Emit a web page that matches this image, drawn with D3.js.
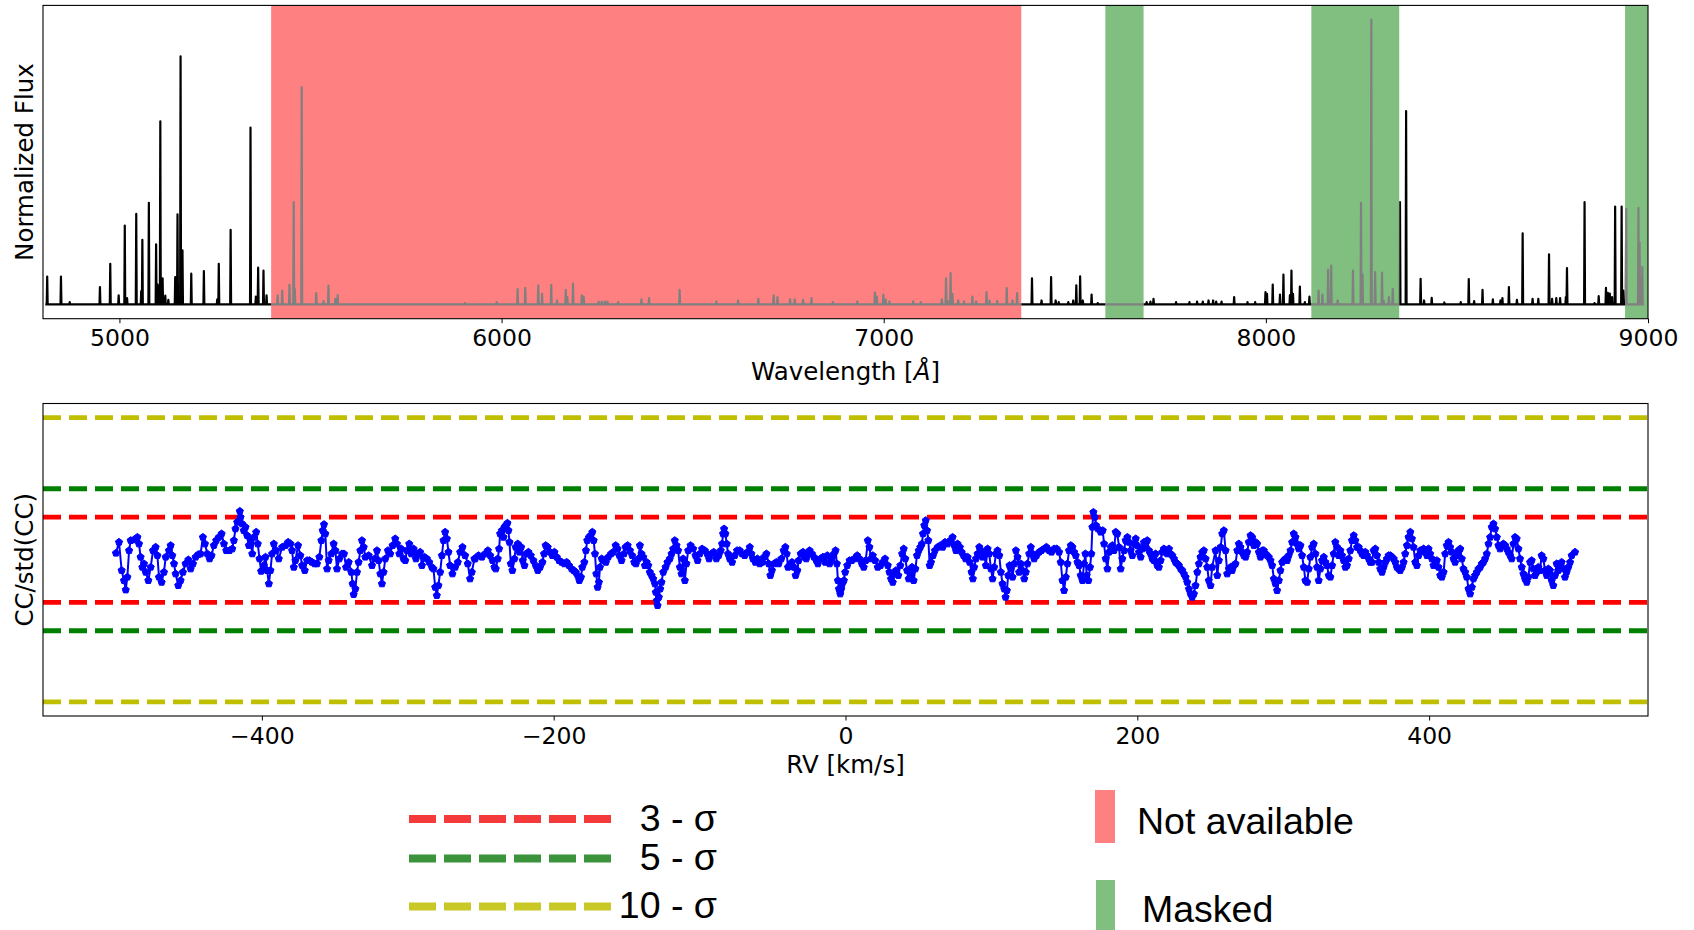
<!DOCTYPE html>
<html><head><meta charset="utf-8">
<script src="https://cdn.jsdelivr.net/npm/d3@7"></script>
<style>
body{margin:0;background:#fff}
svg{display:block}
</style>
</head><body>
<svg id="chart" width="1694" height="930"></svg>
<script>
// ---------------- DATA ----------------
const spectrumRange = [4806, 8990];
// emission lines: [wavelength (Å), normalized flux]
const emissionLines = [
 [4811,0.098],[4847,0.098],[4870,0.008],[4949,0.061],[4976,0.143],[4998,0.032],[5014,0.277],[5020,0.022],
 [5044,0.318],[5057,0.047],[5060,0.227],[5077,0.357],[5096,0.211],[5100,0.070],[5107,0.643],[5113,0.092],
 [5120,0.031],[5128,0.016],[5146,0.096],[5152,0.316],[5160,0.871],[5165,0.19],[5188,0.108],[5221,0.117],
 [5256,0.018],[5260,0.143],[5291,0.262],[5343,0.621],[5357,0.028],[5363,0.129],[5377,0.119],[5385,0.032],
 [5414,0.032],[5426,0.049],[5445,0.069],[5456,0.359],[5459,0.054],[5477,0.763],[5515,0.040],[5534,0.012],
 [5547,0.066],[5565,0.020],[5571,0.033],[5904,0.005],[5987,0.008],[6042,0.054],[6062,0.058],[6096,0.067],
 [6106,0.037],[6130,0.069],[6145,0.014],[6168,0.051],[6172,0.026],[6187,0.073],[6210,0.032],[6215,0.028],
 [6254,0.010],[6262,0.010],[6270,0.010],[6277,0.010],[6305,0.008],[6366,0.018],[6386,0.022],[6466,0.051],
 [6562,0.011],[6619,0.014],[6672,0.020],[6712,0.032],[6722,0.026],[6755,0.018],[6767,0.018],[6789,0.016],
 [6811,0.022],[6867,0.008],[6931,0.011],[6977,0.042],[6982,0.028],[6999,0.035],[7005,0.018],[7015,0.011],
 [7077,0.011],[7097,0.008],[7152,0.018],[7163,0.092],[7168,0.012],[7175,0.11],[7180,0.037],[7195,0.014],
 [7210,0.011],[7232,0.028],[7242,0.011],[7269,0.043],[7277,0.014],[7297,0.012],[7322,0.057],[7337,0.014],
 [7349,0.040],[7388,0.092],[7413,0.014],[7438,0.096],[7450,0.014],[7458,0.008],[7483,0.008],[7496,0.014],
 [7504,0.067],[7514,0.099],[7521,0.014],[7544,0.035],[7560,0.005],[7688,0.008],[7698,0.010],[7706,0.020],
 [7765,0.008],[7800,0.008],[7820,0.010],[7835,0.010],[7850,0.014],[7862,0.014],[7870,0.010],[7884,0.010],
 [7917,0.026],[7952,0.008],[7972,0.008],[7999,0.043],[8003,0.037],[8018,0.070],[8037,0.035],[8046,0.105],
 [8063,0.033],[8067,0.119],[8071,0.037],[8089,0.063],[8102,0.008],[8114,0.028],[8138,0.049],[8148,0.035],
 [8163,0.122],[8171,0.136],[8188,0.014],[8228,0.119],[8249,0.357],[8253,0.105],[8276,1.0],[8286,0.114],
 [8304,0.112],[8308,0.014],[8322,0.026],[8332,0.055],[8351,0.359],[8367,0.679],[8405,0.090],[8414,0.014],
 [8434,0.023],[8467,0.007],[8510,0.008],[8531,0.089],[8545,0.012],[8567,0.051],[8594,0.018],[8614,0.014],
 [8619,0.022],[8636,0.061],[8657,0.016],[8672,0.250],[8698,0.020],[8713,0.020],[8741,0.176],[8749,0.020],
 [8760,0.022],[8770,0.022],[8785,0.026],[8788,0.128],[8834,0.359],[8860,0.005],[8871,0.029],[8890,0.058],
 [8895,0.041],[8900,0.038],[8906,0.026],[8914,0.344],[8931,0.344],[8935,0.049],[8943,0.336],[8975,0.339],
 [8978,0.218],[8985,0.131]
];
const notAvailableRanges = [[5397, 7360]];
const maskedRanges = [[7580, 7680], [8119, 8349], [8940, 9000]];
const wavelengthTicks = [5000, 6000, 7000, 8000, 9000];

// cross-correlation: [RV (km/s), CC/std(CC)]
const ccSeries = [
 [-500,0.47],[-497.9,1.24],[-496.1,-0.75],[-494.5,-1.46],[-493.3,-2.12],[-492.2,-1.22],[-491.0,0.65],[-489.9,1.36],[-487.6,1.41],[-485.3,1.59],
 [-484.2,1.12],[-483.1,0.19],[-481.9,-0.52],[-480.8,-0.28],[-479.6,-0.87],[-477.8,-1.46],[-476.2,-0.52],[-474.6,0.65],[-472.8,0.89],[-471.6,0.30],
 [-470.5,-1.22],[-468.7,-1.58],[-467.1,-0.87],[-465.9,0.19],[-463.7,0.65],[-462.5,1.01],[-461.4,0.30],[-460.2,-0.28],[-459.1,-0.99],[-457.3,-1.81],
 [-455.7,-1.46],[-454.1,-0.87],[-452.3,-0.28],[-450.4,0.00],[-448.8,-0.64],[-447.2,-0.28],[-445.4,0.19],[-443.6,0.37],[-442.0,0.42],[-440.4,1.59],
 [-439.0,1.12],[-437.4,0.42],[-435.8,0.07],[-434.5,0.30],[-432.9,1.01],[-431.3,1.36],[-429.5,1.59],[-427.6,1.83],[-426.0,1.12],[-424.4,0.65],
 [-422.2,0.65],[-420.3,0.77],[-419.2,1.36],[-418.1,2.18],[-416.9,2.65],[-415.1,3.42],[-414.6,3.00],[-413.5,2.53],[-412.4,2.06],[-411.2,2.30],
 [-410.1,1.71],[-408.9,1.01],[-407.8,1.36],[-406.6,0.42],[-405.5,1.59],[-403.9,1.95],[-402.8,1.12],[-401.6,0.07],[-400.5,-0.80],[-398.7,-0.40],
 [-397.5,0.19],[-396.4,-0.75],[-395.2,-1.69],[-394.1,-0.75],[-393.0,0.42],[-391.8,1.12],[-390.2,0.65],[-388.4,0.07],[-386.1,0.89],[-383.8,1.01],
 [-382.0,1.24],[-380.4,1.12],[-379.3,0.65],[-378.1,-0.52],[-377.0,-0.05],[-375.2,1.01],[-373.6,0.30],[-372.4,-0.40],[-370.6,-0.75],[-369.0,-0.05],
 [-367.4,-0.05],[-365.6,-0.17],[-363.8,-0.28],[-362.2,-0.28],[-360.6,0.19],[-359.2,1.36],[-358.3,2.06],[-357.4,2.49],[-356.5,1.83],[-355.3,-0.64],
 [-354.2,-0.05],[-352.4,0.42],[-350.8,1.12],[-349.6,0.65],[-348.5,-0.64],[-346.9,0.07],[-345.1,0.42],[-343.7,0.42],[-342.3,-0.52],[-340.5,-0.17],
 [-338.7,-0.87],[-337.8,-1.69],[-337.1,-2.44],[-335.9,-2.05],[-334.8,-0.87],[-333.7,-0.17],[-332.5,0.65],[-331.4,1.36],[-330.2,0.89],[-329.1,0.19],
 [-326.8,0.30],[-324.5,-0.40],[-322.7,0.07],[-321.1,0.65],[-320.0,-0.05],[-318.8,-0.99],[-317.7,-1.69],[-316.6,-0.87],[-315.4,0.07],[-313.6,0.65],
 [-312.0,0.42],[-310.4,1.01],[-308.6,1.48],[-307.4,1.12],[-305.8,0.42],[-304.5,0.77],[-302.9,0.07],[-301.7,-0.05],[-300.6,0.65],[-299.0,1.12],
 [-297.6,0.42],[-296.0,0.77],[-294.4,0.07],[-293.1,0.42],[-291.5,0.54],[-290.3,-0.40],[-288.5,0.19],[-286.9,0.07],[-285.3,-0.17],[-283.5,-0.52],
 [-282.4,-0.64],[-281.2,-1.93],[-280.1,-2.51],[-279.0,-1.81],[-277.8,-0.87],[-276.6,0.30],[-275.5,1.36],[-274.4,1.95],[-273.2,1.48],[-272.1,0.54],
 [-271.0,-0.40],[-269.4,-0.99],[-267.5,-0.52],[-265.7,-0.17],[-264.1,0.54],[-262.5,0.89],[-260.7,0.30],[-258.9,-0.28],[-257.3,-1.34],[-256.1,-0.87],
 [-254.3,0.07],
 [-253.8,0.07],[-251.5,0.30],[-249.2,0.19],[-247.0,0.42],[-245.1,0.65],[-243.5,0.30],[-241.9,-0.05],[-240.6,-0.52],[-239.7,-0.64],[-238.3,0.07],
 [-237.4,0.77],[-236.7,1.83],[-235.5,2.06],[-234.4,1.59],[-233.7,2.30],[-232.8,2.42],[-231.7,2.58],[-231.0,2.06],[-230.3,1.24],[-229.4,-0.28],
 [-228.3,-0.75],[-226.9,0.07],[-226.0,0.89],[-224.6,1.12],[-223.5,0.54],[-222.3,0.89],[-221.2,-0.05],[-220.0,-0.40],[-218.9,0.42],[-217.3,0.54],
 [-215.7,0.30],[-213.9,-0.05],[-212.3,-0.40],[-210.9,-0.75],[-209.3,-0.52],[-207.7,-0.17],[-206.6,0.42],[-205.5,1.01],[-204.1,0.89],[-202.5,0.54],
 [-200.9,0.30],[-199.5,0.54],[-197.9,0.19],[-196.3,-0.05],[-194.5,-0.17],[-192.7,-0.28],[-191.1,-0.17],[-189.5,-0.40],[-187.7,-0.64],[-186.3,-0.75],
 [-184.9,-0.87],[-183.6,-1.10],[-182.4,-1.46],[-181.3,-1.22],[-180.4,-0.52],[-179.0,-0.17],[-177.9,0.65],[-177.0,1.36],[-175.8,1.59],[-174.7,1.71],
 [-173.5,1.95],[-172.6,1.36],[-171.7,0.42],[-170.8,-0.99],[-169.9,-1.93],[-169.0,-1.58],[-168.3,-0.52],[-167.1,0.07],[-165.5,-0.05],[-164.2,-0.17],
 [-162.6,0.19],[-160.7,0.42],[-159.2,0.54],[-157.5,1.01],[-156.2,0.77],[-155.0,0.30],[-153.5,-0.05],[-151.8,0.42],[-150.7,0.89],[-149.3,1.01],
 [-147.7,0.65],[-146.2,0.30],[-144.8,-0.17],[-143.6,-0.28],[-142.0,0.07],[-140.9,1.01],[-139.8,0.42],[-138.6,0.19],[-137.5,-0.40],[-136.3,-0.17],
 [-135.2,-0.40],[-134.1,-0.87],[-132.9,-1.10],[-131.8,-1.34],[-130.6,-1.69],[-130.0,-2.28],[-129.3,-2.87],[-128.8,-3.22],[-127.9,-2.63],[-127.0,-2.05],
 [-126.1,-1.58],[-124.9,-0.87],[-123.3,-0.52],[-122.0,-0.17],[-120.4,0.07],[-119.2,0.42],[-118.1,0.77],[-117.0,1.36],[-115.8,1.01],[-114.7,0.65],
 [-113.5,-0.52],[-112.4,-0.99],[-111.3,0.07],[-110.1,-1.46],[-109.0,-0.28],[-107.8,0.65],[-106.2,1.01],[-104.4,0.77],[-102.8,0.30],[-101.4,-0.05],
 [-99.9,0.42],[-98.3,0.77],[-96.4,0.65],[-94.8,0.42],[-93.5,0.07],[-91.9,0.42],[-90.3,0.54],[-88.5,0.07],[-86.9,0.30],[-85.5,0.65],
 [-84.6,1.12],[-83.9,1.83],[-83.2,2.18],[-82.3,1.83],[-81.4,1.12],[-80.5,0.42],[-79.3,0.07],[-77.7,-0.17],[-75.9,0.30],[-74.3,0.65],
 [-72.5,0.65],[-70.9,0.42],[-69.1,0.30],[-67.2,0.54],[-65.6,0.89],[-64.5,0.42],[-63.4,0.07],[-61.8,-0.17],[-60.4,0.07],[-58.8,-0.28],
 [-57.2,-0.17],[-55.8,0.19],[-54.2,0.42],[-52.6,-0.28],[-51.5,-1.10],[-50.4,-0.75],[-49.0,-0.28],[-47.4,-0.17],[-45.8,-0.28],[-44.0,0.07],
 [-42.4,0.65],[-41.2,0.89],[-40.3,0.42],[-39.4,-0.52],[-38.3,-0.40],[-36.7,-0.17],[-35.3,-0.52],[-34.2,-1.10],[-33.0,-0.75],[-32.1,-0.05],
 [-30.7,0.42],[-29.1,0.54],[-28.0,0.19],[-26.9,0.07],[-25.7,0.42],[-24.6,0.65],[-23.0,0.42],[-21.6,0.19],[-20.0,-0.05],[-18.9,-0.28],
 [-17.1,0.07],[-15.5,0.19],[-13.9,-0.17],[-12.5,0.30],[-10.9,-0.28],[-9.3,0.07],[-7.9,0.42],[-6.8,0.65],[-5.9,-0.28],[-5.2,-1.46],
 [-4.5,-2.05],[-3.6,-2.40],[-2.9,-2.05],[-2.2,-1.69],[-1.1,-1.46],[-0.2,-0.87],[1.2,-0.40],[2.8,-0.05],
 [4.3,-0.05],[6.1,0.07],[8.0,0.30],[9.6,0.07],[11.2,-0.28],[12.5,-0.52],[13.9,-0.05],[15.3,1.36],[16.4,0.89],[17.5,0.07],
 [18.7,0.30],[20.3,-0.05],[22.1,-0.52],[24.0,-0.40],[25.5,-0.17],[27.1,0.07],[29.0,-0.40],[30.1,-0.87],[31.2,-1.34],[32.4,-1.58],
 [33.5,-0.99],[34.6,-0.75],[36.2,-1.10],[37.6,-0.40],[38.8,0.42],[39.9,0.77],[41.0,0.07],[42.2,-0.75],[43.3,-1.34],[44.5,-1.10],
 [45.6,-0.52],[46.7,-1.46],[47.9,-0.64],[49.0,0.30],[50.2,0.65],[51.3,0.89],[52.4,1.12],[53.1,1.83],[54.0,2.42],[55.0,2.77],
 [55.9,2.06],[56.8,1.36],[57.7,-0.40],[58.6,-0.17],[60.0,0.30],[61.3,0.65],[63.2,0.89],[65.0,1.01],[66.6,0.89],[68.2,1.24],
 [70.0,1.12],[71.8,1.36],[73.4,1.59],[74.6,1.01],[75.7,0.65],[76.8,1.12],[78.4,0.89],[79.6,0.54],[80.9,0.30],[82.3,0.07],
 [83.7,0.19],[85.1,-0.17],[86.4,-0.87],[87.3,-1.34],[88.2,-0.52],[89.4,0.07],[90.5,0.42],[91.7,0.89],[92.8,0.65],[93.9,0.19],
 [95.1,0.42],[96.2,-0.40],[97.4,0.77],[98.5,0.42],[99.7,-0.64],[100.8,-1.34],[101.9,-0.52],[103.1,0.42],[104.2,0.65],[105.4,0.30],
 [106.5,-0.87],[107.6,-1.69],[108.8,-2.05],[109.7,-2.63],[110.6,-2.16],[111.5,-1.10],[112.4,-0.40],[113.3,-0.64],[114.5,-1.22],[115.6,-0.28],
 [116.8,0.65],[117.9,0.19],[119.0,-0.87],[120.2,-0.28],[121.3,-0.75],[122.5,-1.34],[123.6,-0.87],[124.7,-0.28],[125.9,0.42],[127.0,0.89],
 [128.2,0.42],[129.3,0.07],[130.9,0.30],[132.7,0.54],[134.3,0.65],[136.1,0.77],[137.7,0.89],[139.6,0.65],[141.2,0.54],[143.0,0.77],
 [144.8,0.77],[146.4,0.54],[147.5,-0.17],[148.7,-1.46],[149.8,-2.16],[151.0,-1.22],[152.1,-0.28],[153.2,0.65],[154.4,1.01],[155.5,0.89],
 [156.7,0.54],[157.8,0.30],[159.0,-0.17],[160.1,-0.40],[161.2,-1.10],[162.4,-1.46],[163.5,-0.28],[164.4,0.42],[165.3,-1.10],[166.5,-1.46],
 [167.6,-0.52],[168.5,0.42],[169.2,2.30],[169.9,3.35],[170.8,3.00],[171.7,2.42],[173.1,2.18],[174.9,1.95],[176.3,2.06],[177.2,1.12],
 [178.3,0.07],[179.5,-0.64],[180.6,0.54],[181.8,0.89],[182.9,1.01],[184.0,0.65],[185.2,1.95],[186.3,1.83],[187.5,0.89],[188.6,-0.64],
 [189.7,0.07],[190.9,0.65],[192.0,1.36],[193.2,1.59],[194.3,1.24],[195.4,0.65],[196.6,0.30],[197.7,1.12],[198.9,1.48],[200.0,1.01],
 [201.1,0.54],[202.3,0.19],[203.4,0.77],[204.6,1.24],[205.7,0.89],[206.8,1.36],[208.0,0.65],[209.1,0.42],[210.3,0.07],[211.4,-0.05],
 [212.5,0.42],[213.7,-0.40],[214.8,-0.52],[216.0,-0.05],[217.1,0.54],[218.2,0.77],[219.4,0.65],[220.5,0.42],[221.7,0.77],[222.8,0.42],
 [224.0,0.30],[225.1,0.07],[226.2,-0.17],[227.4,-0.28],[228.5,-0.40],[229.7,-0.64],[230.8,-0.75],[231.9,-0.99],[233.1,-1.22],[234.2,-1.58],
 [235.4,-2.05],[236.5,-2.40],[237.6,-2.63],[238.8,-2.40],[239.9,-1.81],[241.1,-0.87],[242.2,-0.28],[243.3,0.19],[244.5,0.54],[245.6,0.65],
 [246.8,0.07],[247.9,-0.52],[249.0,-1.46],[250.2,-1.81],[251.3,-0.52],
 [253.6,0.65],[254.8,-1.10],[255.9,-0.05],[257.1,0.89],[258.2,1.83],[259.3,2.06],[260.5,0.65],[261.6,-0.99],[262.8,-0.64],[263.9,-0.52],
 [265.0,-0.75],[266.2,-0.40],[267.3,-0.28],[268.5,0.65],[269.6,1.12],[270.7,0.89],[271.9,0.54],[273.0,0.30],[274.2,0.19],[275.3,0.54],
 [276.4,1.24],[277.6,1.71],[278.7,1.59],[279.9,1.01],[281.0,1.24],[282.1,1.12],[283.3,0.54],[284.4,0.19],[285.6,0.65],[286.7,0.65],
 [287.9,0.42],[289.0,0.30],[290.1,0.19],[291.3,-0.05],[292.4,-0.40],[293.6,-1.34],[294.7,-1.69],[295.8,-2.16],[297.0,-1.46],[298.1,-0.75],
 [299.3,-0.17],[300.4,-0.05],[301.5,0.07],[302.7,-0.05],[303.8,0.30],[305.0,0.65],[306.1,1.24],[307.2,1.83],[308.4,1.59],[309.5,1.12],
 [310.7,0.77],[311.8,1.01],[312.9,0.30],[314.1,-0.52],[315.2,-1.46],[316.4,-1.58],[317.5,-0.64],[318.6,0.19],[319.8,0.89],[320.9,1.12],
 [322.1,0.42],[323.2,-0.52],[324.3,-1.46],[325.5,-0.64],[326.6,-0.05],[327.8,0.19],[328.9,-0.17],[330.0,-0.40],[331.2,-1.10],[332.3,-1.22],
 [333.5,-0.40],[334.6,0.42],[335.7,1.24],[336.9,0.89],[338.0,0.30],[339.2,0.65],[340.3,0.30],[341.4,-0.05],[342.6,-0.52],[343.7,-0.40],
 [344.9,0.07],[346.0,0.65],[347.1,1.36],[348.3,1.71],[349.4,1.36],[350.6,0.89],[351.7,0.89],[352.8,0.65],[354.0,0.42],[355.1,0.30],
 [356.3,0.54],[357.4,0.30],[358.6,0.07],[359.7,-0.17],[360.8,-0.17],[362.0,0.65],[363.1,0.77],[364.3,0.30],[365.4,-0.17],[366.5,-0.64],
 [367.7,-0.87],[368.8,-0.52],[370.0,-0.17],[371.1,0.07],[372.2,0.30],[373.4,0.30],[374.5,0.19],[375.7,0.07],[376.8,-0.17],[377.9,-0.52],
 [379.1,-0.64],[380.2,-0.75],[381.4,-0.52],[382.5,-0.17],[383.6,0.42],[384.8,1.01],[385.9,1.59],[387.1,1.95],[388.2,1.48],[389.3,0.89],
 [390.5,-0.17],[391.6,-0.40],[392.8,0.30],[393.9,0.65],[395.0,0.65],[396.2,0.77],[397.3,0.54],[398.5,0.30],[399.6,0.77],[400.7,0.42],
 [401.9,0.07],[403.0,-0.40],[404.2,-0.17],[405.3,-0.05],[406.4,-0.52],[407.6,-1.10],[408.7,-1.22],[409.9,-0.87],[411.0,0.42],[412.1,1.01],
 [413.3,1.24],[414.4,0.89],[415.6,0.54],[416.7,0.07],[417.8,-0.17],[419.0,0.30],[420.1,0.65],[421.3,0.77],[422.4,0.07],[423.5,-0.64],
 [424.7,-0.87],[425.8,-1.22],[427.0,-2.05],[428.1,-2.40],[429.3,-1.93],[430.4,-1.34],[431.5,-1.10],[432.7,-0.87],[433.8,-0.64],[435.0,-0.52],
 [436.1,-0.28],[437.2,-0.17],[438.4,0.07],[439.5,0.42],[440.7,1.12],[441.8,1.59],[442.9,2.30],[444.1,2.53],[445.2,2.18],[446.4,1.59],
 [447.5,1.01],[448.6,0.77],[449.8,1.01],[450.9,1.12],[452.1,1.01],[453.2,0.77],[454.3,0.54],[455.5,0.30],[456.6,0.07],[457.8,1.12],
 [458.9,1.59],[460.0,1.48],[461.2,0.77],[462.3,0.07],[463.5,-0.52],[464.6,-0.99],[465.7,-1.34],[466.9,-1.58],[468.0,-1.22],[469.2,-0.17],
 [470.3,-0.05],[471.4,-0.64],[472.6,-1.10],[473.7,-0.87],[474.9,-0.52],[476.0,-0.75],[477.1,0.30],[478.3,0.07],[479.4,-0.75],[480.6,-1.10],
 [481.7,-0.64],[482.8,-0.75],[484.0,-1.46],[485.1,-1.81],[486.3,-1.10],[487.4,-0.28],[488.5,-0.75],[489.7,-0.52],[490.8,-0.17],[492.0,-0.64],
 [493.1,-1.22],[494.2,-0.87],[495.4,-0.52],[496.6,-0.17],[497.7,0.30],[500.0,0.54]
];
const rvTicks = [-400, -200, 0, 200, 400];
const sigmaLevels = [3, 5, 10];
const sigmaColors = ["#ff0000", "#008000", "#bfbf00"];
const sigmaLabels = ["3 - σ", "5 - σ", "10 - σ"];
const legendLineColors = ["#f42a2a", "#2b8c2b", "#c4c414"];
const regionLabels = ["Not available", "Masked"];
const regionColors = ["#ff8080", "#80bf80"];

// ---------------- LAYOUT ----------------
const svg = d3.select("#chart");
const L = 43, R = 1648;
const T1 = 5.4, B1 = 318.7;
const T2 = 403.5, B2 = 716;
const FONT = "'DejaVu Sans', sans-serif";
const TICK_FS = 23.5, LABEL_FS = 24.5;

const x1 = d3.scaleLinear().domain([4800, 9000]).range([L, R]);
const y1 = d3.scaleLinear().domain([-0.05, 1.05]).range([B1, T1]);
const x2 = d3.scaleLinear().domain([-550, 550]).range([L, R]);
const y2 = d3.scaleLinear().domain([-11, 11]).range([B2, T2]);

const defs = svg.append("defs");
defs.append("clipPath").attr("id", "clip1").append("rect")
  .attr("x", L).attr("y", T1).attr("width", R - L).attr("height", B1 - T1);
defs.append("clipPath").attr("id", "clip2").append("rect")
  .attr("x", L).attr("y", T2).attr("width", R - L).attr("height", B2 - T2);
const grayClip = defs.append("clipPath").attr("id", "grayclip");
notAvailableRanges.concat(maskedRanges).forEach(r => {
  grayClip.append("rect").attr("x", x1(r[0])).attr("y", T1)
    .attr("width", x1(Math.min(r[1], 9000)) - x1(r[0])).attr("height", B1 - T1);
});

// ---------------- TOP PANEL ----------------
const g1 = svg.append("g").attr("clip-path", "url(#clip1)");
const lines = emissionLines.slice().sort((a, b) => a[0] - b[0]);
const specPts = [[spectrumRange[0], 0]];
lines.forEach(([w, f]) => {
  specPts.push([w - 1.2, 0], [w, f], [w + 1.2, 0]);
});
specPts.push([spectrumRange[1], 0]);
const specLine = d3.line().x(d => x1(d[0])).y(d => y1(d[1]));

g1.append("path").attr("d", specLine(specPts))
  .attr("fill", "none").attr("stroke", "#000").attr("stroke-width", 2.2)
  .attr("stroke-linejoin", "round");

g1.selectAll("rect.na").data(notAvailableRanges).join("rect").attr("class", "na")
  .attr("x", d => x1(d[0])).attr("y", T1)
  .attr("width", d => x1(d[1]) - x1(d[0])).attr("height", B1 - T1)
  .attr("fill", regionColors[0]);
g1.selectAll("rect.mk").data(maskedRanges).join("rect").attr("class", "mk")
  .attr("x", d => x1(d[0])).attr("y", T1)
  .attr("width", d => x1(Math.min(d[1], 9000)) - x1(d[0])).attr("height", B1 - T1)
  .attr("fill", regionColors[1]);

g1.append("g").attr("clip-path", "url(#grayclip)")
  .append("path").attr("d", specLine(specPts))
  .attr("fill", "none").attr("stroke", "#808080").attr("stroke-width", 2.2)
  .attr("stroke-linejoin", "round");

svg.append("rect").attr("x", L).attr("y", T1).attr("width", R - L).attr("height", B1 - T1)
  .attr("fill", "none").attr("stroke", "#000").attr("stroke-width", 1.1);

const ax1 = svg.append("g").attr("transform", `translate(0,${B1})`)
  .call(d3.axisBottom(x1).tickValues(wavelengthTicks).tickSize(4.5).tickPadding(6.5).tickFormat(d3.format("d")));
ax1.select(".domain").remove();
ax1.selectAll("text").attr("font-size", TICK_FS).attr("font-family", FONT).attr("fill", "#000");
ax1.selectAll("line").attr("stroke", "#000");

const xl1 = svg.append("text").attr("x", (L + R) / 2).attr("y", 380).attr("text-anchor", "middle")
  .attr("font-family", FONT).attr("font-size", LABEL_FS);
xl1.append("tspan").text("Wavelength [");
xl1.append("tspan").attr("font-style", "italic").text("Å");
xl1.append("tspan").text("]");

svg.append("text").attr("transform", `translate(33,${(T1 + B1) / 2}) rotate(-90)`)
  .attr("text-anchor", "middle").attr("font-family", FONT).attr("font-size", LABEL_FS)
  .text("Normalized Flux");

// ---------------- BOTTOM PANEL ----------------
const g2 = svg.append("g").attr("clip-path", "url(#clip2)");
sigmaLevels.forEach((s, i) => {
  [s, -s].forEach(v => {
    g2.append("line").attr("x1", L).attr("x2", R).attr("y1", y2(v)).attr("y2", y2(v))
      .attr("stroke", sigmaColors[i]).attr("stroke-width", 4.8)
      .attr("stroke-dasharray", "18,8");
  });
});

const ccLine = d3.line().x(d => x2(d[0])).y(d => y2(d[1]));
g2.append("path").attr("d", ccLine(ccSeries)).attr("fill", "none")
  .attr("stroke", "#0000ff").attr("stroke-width", 2).attr("stroke-linejoin", "round");

const pentagon = {
  draw(ctx, size) {
    const r = Math.sqrt(size);
    for (let i = 0; i < 5; i++) {
      const a = -Math.PI / 2 + i * 2 * Math.PI / 5;
      const px = r * Math.cos(a), py = r * Math.sin(a);
      if (i === 0) ctx.moveTo(px, py); else ctx.lineTo(px, py);
    }
    ctx.closePath();
  }
};
const sym = d3.symbol(pentagon, 14)();
g2.selectAll("path.mk").data(ccSeries).join("path").attr("class", "mk")
  .attr("d", sym).attr("transform", d => `translate(${x2(d[0])},${y2(d[1])})`)
  .attr("fill", "#0000ff").attr("stroke", "#0000ff").attr("stroke-width", 1);

svg.append("rect").attr("x", L).attr("y", T2).attr("width", R - L).attr("height", B2 - T2)
  .attr("fill", "none").attr("stroke", "#000").attr("stroke-width", 1.1);

const ax2 = svg.append("g").attr("transform", `translate(0,${B2})`)
  .call(d3.axisBottom(x2).tickValues(rvTicks).tickSize(4.5).tickPadding(6.5)
    .tickFormat(d => d < 0 ? "\u2212" + Math.abs(d) : String(d)));
ax2.select(".domain").remove();
ax2.selectAll("text").attr("font-size", TICK_FS).attr("font-family", FONT).attr("fill", "#000");
ax2.selectAll("line").attr("stroke", "#000");

svg.append("text").attr("x", (L + R) / 2).attr("y", 773).attr("text-anchor", "middle")
  .attr("font-family", FONT).attr("font-size", LABEL_FS).text("RV [km/s]");

svg.append("text").attr("transform", `translate(33,${(T2 + B2) / 2}) rotate(-90)`)
  .attr("text-anchor", "middle").attr("font-family", FONT).attr("font-size", LABEL_FS)
  .text("CC/std(CC)");

// ---------------- LEGEND ----------------
const LFONT = "'Liberation Sans', Arial, sans-serif";
const legY = [819, 858.5, 906.5];
const legBase = [831, 870, 918];
sigmaLevels.forEach((s, i) => {
  svg.append("line").attr("x1", 409).attr("x2", 612).attr("y1", legY[i]).attr("y2", legY[i])
    .attr("stroke", legendLineColors[i]).attr("stroke-width", 8).attr("stroke-dasharray", "27,8")
    .attr("opacity", 0.92);
  svg.append("text").attr("x", 717).attr("y", legBase[i]).attr("text-anchor", "end")
    .attr("font-family", LFONT).attr("font-size", 37.5).text(sigmaLabels[i]);
});
svg.append("rect").attr("x", 1095).attr("y", 790).attr("width", 20).attr("height", 53).attr("fill", regionColors[0]);
svg.append("text").attr("x", 1137).attr("y", 834).attr("font-family", LFONT).attr("font-size", 37.5).text(regionLabels[0]);
svg.append("rect").attr("x", 1096).attr("y", 880).attr("width", 19).attr("height", 55).attr("fill", regionColors[1]);
svg.append("text").attr("x", 1142).attr("y", 922).attr("font-family", LFONT).attr("font-size", 37.5).text(regionLabels[1]);
</script>
</body></html>
